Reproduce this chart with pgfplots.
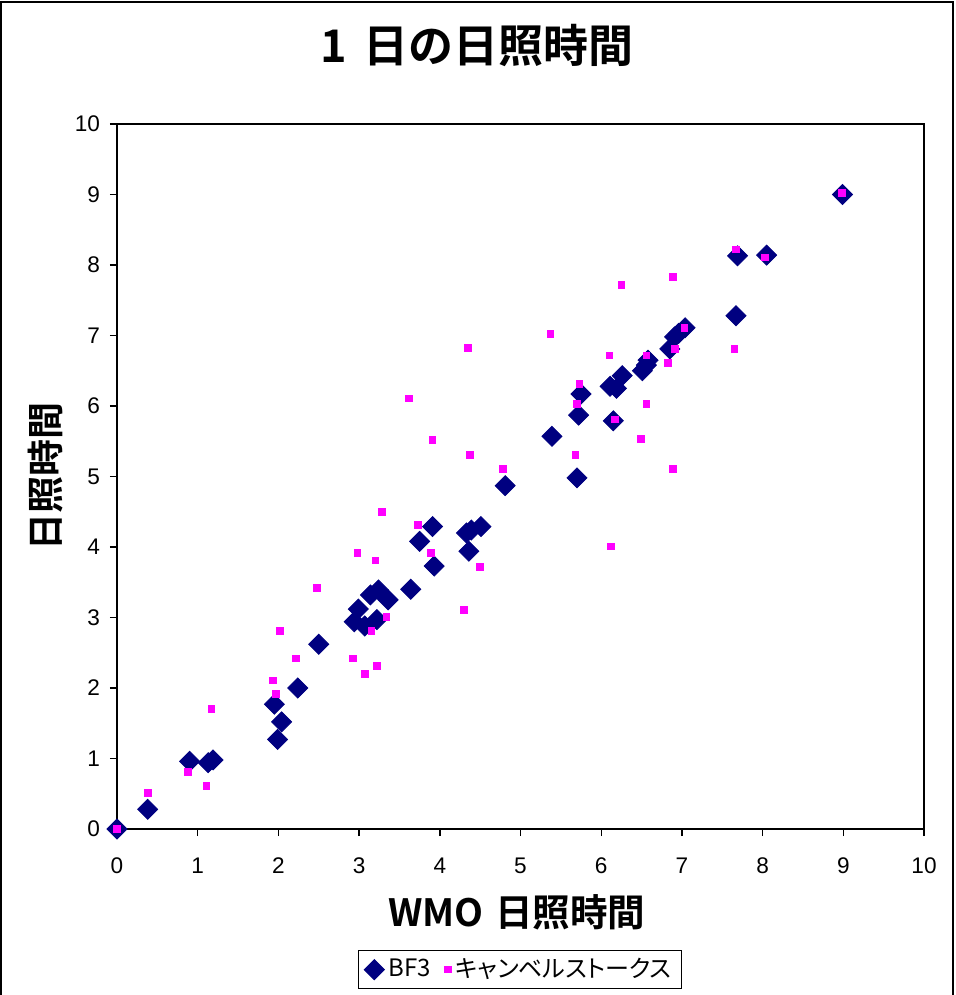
\documentclass[border=0pt]{standalone}
\usepackage{fontspec}
\setmainfont{Liberation Sans}
\newfontfamily\jp{Noto Sans CJK JP}[BoldFont={* Bold}]
\newfontfamily\jpp{Noto Sans CJK JP}[CharacterWidth=AlternateProportional]
\usepackage{pgfplots}
\pgfplotsset{compat=1.18}
\definecolor{bfnavy}{RGB}{0,0,128}
\definecolor{csmag}{RGB}{255,0,255}
\begin{document}
\begin{tikzpicture}
\useasboundingbox (-58.5pt,-83pt) rectangle (419pt,414.5pt);
\begin{axis}[
  at={(0,0)}, anchor=south west,
  scale only axis, width=403.5pt, height=352.5pt,
  xmin=0, xmax=10, ymin=0, ymax=10,
  xtick={0,1,...,10}, ytick={0,1,...,10},
  xtick pos=left, ytick pos=left,
  tick align=outside, major tick length=3.5pt,
  axis line style={black, line width=0.7pt},
  every tick/.style={black, line width=0.7pt},
  /pgf/number format/assume math mode=true,
  ticklabel style={font=\fontsize{11.3}{13}\selectfont},
  xticklabel style={yshift=-7.5pt},
  yticklabel style={xshift=-1.5pt},
  title={\jp\bfseries 1\hspace{0.35em}日の日照時間},
  title style={at={(0.446,1.095)}, anchor=center, font=\fontsize{22.5}{26}\selectfont},
  xlabel={\jp\bfseries WMO\hspace{0.3em}日照時間},
  xlabel style={at={(0.4957,-0.1177)}, anchor=center, font=\fontsize{18.8}{21}\selectfont},
  ylabel={\jp\bfseries 日照時間},
  ylabel style={at={(-0.089,0.5)}, anchor=center, font=\fontsize{18.5}{21}\selectfont},
  legend columns=2,
  legend cell align=left,
  legend style={at={(0.4994,-0.1716)}, anchor=north, draw=black, line width=0.5pt,
    font=\jpp\fontsize{12}{14}\selectfont,
    /tikz/every even column/.append style={column sep=5pt}},
]
\addplot[only marks, mark=square*, mark size=3.54pt, mark options={rotate=45, fill=bfnavy, draw=bfnavy}] coordinates {
(0,0) (0.38,0.28) (0.90,0.96) (1.13,0.94) (1.19,0.98) (1.95,1.77) (1.99,1.27) (2.04,1.52)
(2.24,2.00) (2.50,2.62) (2.94,2.94) (2.99,3.12) (3.07,2.88) (3.22,2.97) (3.14,3.32)
(3.24,3.39) (3.36,3.25) (3.64,3.40) (3.93,3.73) (3.75,4.08) (3.91,4.29) (4.33,4.20)
(4.39,4.24) (4.51,4.29) (4.36,3.94) (4.81,4.87) (5.39,5.57) (5.70,4.98) (5.72,5.87)
(5.75,6.17) (6.15,5.79) (6.11,6.28) (6.19,6.25) (6.26,6.43) (6.51,6.50) (6.56,6.58)
(6.58,6.65) (6.85,6.81) (6.91,6.98) (6.96,7.03) (7.04,7.11) (7.67,7.28) (7.69,8.13)
(8.05,8.14) (8.99,9.00)
};
\addlegendentry{BF3}
\addplot[only marks, mark=square*, mark size=1.65pt, mark options={fill=csmag, draw=csmag}] coordinates {
(0,0) (0.38,0.51) (0.88,0.81) (1.11,0.61) (1.17,1.70) (1.93,2.11) (1.97,1.92) (2.02,2.81)
(2.22,2.42) (2.48,3.42) (2.92,2.42) (2.98,3.92) (3.07,2.20) (3.15,2.81) (3.20,3.81)
(3.22,2.31) (3.28,4.50) (3.34,3.01) (3.62,6.11) (3.73,4.31) (3.89,3.92) (3.91,5.52)
(4.30,3.11) (4.35,6.82) (4.37,5.31) (4.50,3.72) (4.78,5.11) (5.37,7.02) (5.68,5.31)
(5.70,6.03) (5.73,6.31) (6.10,6.72) (6.12,4.01) (6.17,5.81) (6.25,7.72) (6.49,5.53)
(6.56,6.72) (6.56,6.03) (6.83,6.61) (6.89,7.83) (6.89,5.11) (6.91,6.81) (7.03,7.11)
(7.65,6.81) (7.67,8.22) (8.03,8.11) (8.98,9.02)
};
\addlegendentry{キャンベルストークス}
\end{axis}
\draw[black, line width=1pt] (-58pt,-100pt) -- (-58pt,413.5pt) -- (418pt,413.5pt) -- (418pt,-100pt);
\end{tikzpicture}
\end{document}
